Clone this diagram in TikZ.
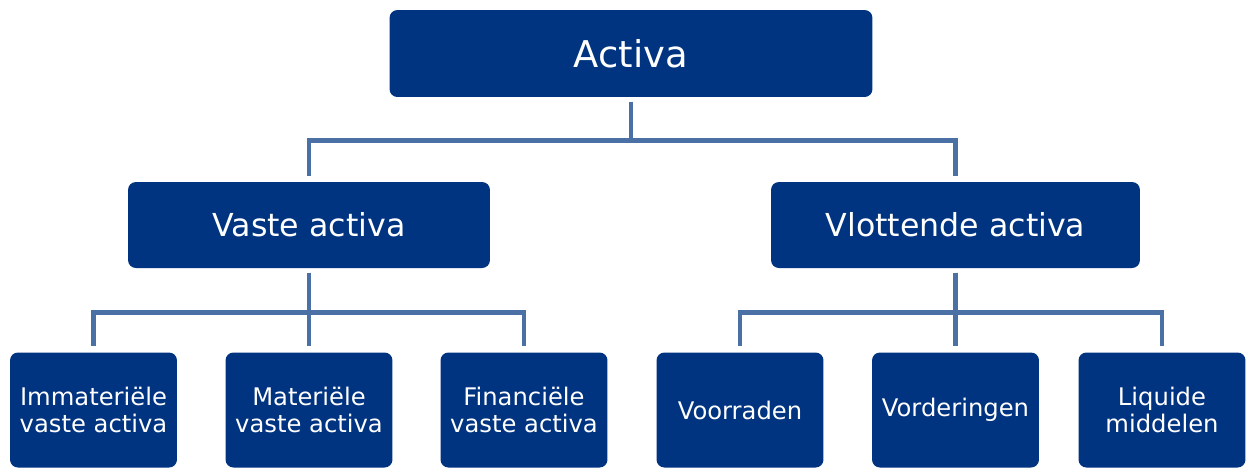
\documentclass[tikz,border=0pt]{standalone}
\usepackage{fontspec}
\setmainfont{DejaVu Sans}
\definecolor{boxblue}{RGB}{0,51,128}
\definecolor{linkblue}{RGB}{74,112,165}
\tikzset{
  blok/.style={draw=none, fill=boxblue, text=white, rounded corners=4.5pt,
    inner sep=0pt, align=center},
  hoofd/.style={blok, minimum width=9.66cm, minimum height=1.74cm, font=\fontsize{21}{25}\selectfont},
  groep/.style={blok, minimum width=7.3cm, minimum height=1.72cm, font=\fontsize{18}{22}\selectfont},
  post/.style={blok, minimum width=3.34cm, minimum height=2.3cm, font=\fontsize{13.8}{15.5}\selectfont},
  link/.style={draw=linkblue, line width=2.8pt, shorten <=2.5pt, shorten >=3.5pt}
}
\begin{document}
\begin{tikzpicture}[x=0.02cm, y=-0.02cm]
				\useasboundingbox (0,0) rectangle (1251,468);
				
				\node[hoofd] (activa) at (631, 53.5) {Activa};
				
				\node[groep, minimum width=7.24cm] (vaste) at (309, 225) {Vaste activa};
				\node[groep, minimum width=7.38cm] (vlottende) at (955.5, 225) {Vlottende activa};
				
				\node[post] (immat) at (93.5, 410) {Immateriële\\vaste activa};
				\node[post] (mat) at (309, 410) {Materiële\\vaste activa};
				\node[post] (fin) at (524, 410) {Financiële\\vaste activa};
				\node[post] (voorraden) at (740, 410) {Voorraden};
				\node[post] (vorderingen) at (955.5, 410) {Vorderingen};
				\node[post] (liquide) at (1162, 410) {Liquide\\middelen};
				
				\draw[link] (activa.south) -- ++(0,43) -| (vaste.north);
				\draw[link] (activa.south) -- ++(0,43) -| (vlottende.north);
				
				\draw[link] (vaste.south) -- ++(0,44) -| (immat.north);
				\draw[link] (vaste.south) -- (mat.north);
				\draw[link] (vaste.south) -- ++(0,44) -| (fin.north);
				
				\draw[link] (vlottende.south) -- ++(0,44) -| (voorraden.north);
				\draw[link] (vlottende.south) -- (vorderingen.north);
				\draw[link] (vlottende.south) -- ++(0,44) -| (liquide.north);
\end{tikzpicture}
\end{document}
